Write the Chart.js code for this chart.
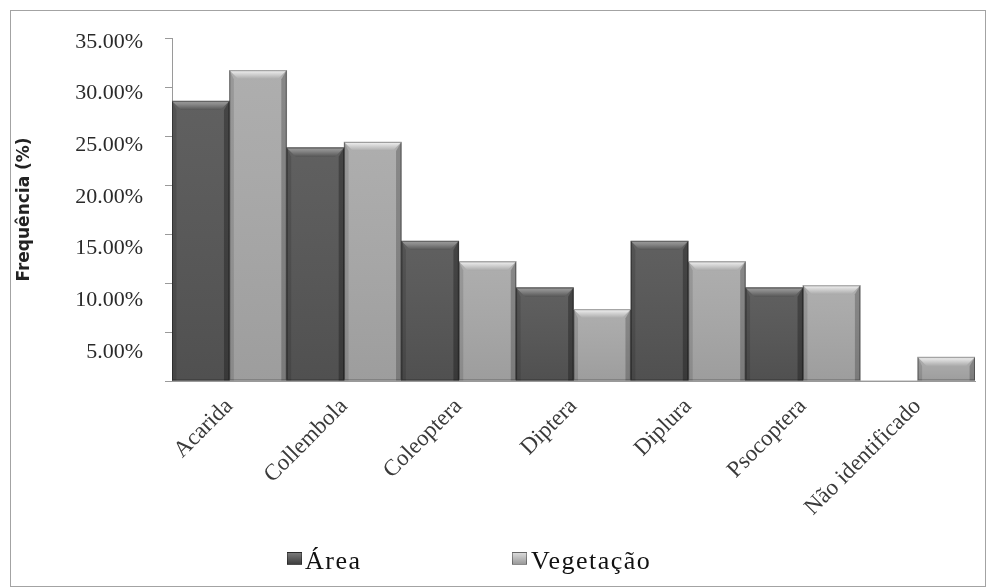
<!DOCTYPE html>
<html>
<head>
<meta charset="utf-8">
<script src="https://cdn.jsdelivr.net/npm/chart.js@4.4.1/dist/chart.umd.min.js"></script>
<style>
  html, body { margin: 0; padding: 0; background: #fff; }
  #wrap { position: relative; width: 987px; height: 587px; overflow: hidden; background: #fff; }
  #frame { position: absolute; left: 10px; top: 10px; width: 976px; height: 577px;
           border: 1px solid #a3a3a3; box-sizing: border-box; }
  #chart { position: absolute; left: 0; top: 0; }
  .key { position: absolute; width: 15px; height: 13px; box-sizing: border-box; }
  .key-text { position: absolute; font-family: "Liberation Serif", "Times New Roman", serif;
              font-size: 26px; line-height: 26px; letter-spacing: 1.5px; color: #111; white-space: nowrap; }
</style>
</head>
<body>
<div id="wrap">
  <div id="frame"></div>
  <canvas id="chart" width="987" height="587"></canvas>
  <div id="legend"></div>
</div>
<script>
// Soil fauna groups and their relative frequency (%) in each environment
const categories = ['Acarida', 'Collembola', 'Coleoptera', 'Diptera', 'Diplura', 'Psocoptera', 'Não identificado'];
const seriesNames = ['Área', 'Vegetação'];
const areaValues = [28.57, 23.81, 14.29, 9.52, 14.29, 9.52, 0];
const vegetacaoValues = [31.71, 24.39, 12.20, 7.32, 12.20, 9.76, 2.44];
const yTickValues = [5, 10, 15, 20, 25, 30, 35];
const yTickLabels = ['5.00%', '10.00%', '15.00%', '20.00%', '25.00%', '30.00%', '35.00%'];

// Bar palette: body, top bevel, side shade
const palette = [
  { body: '#565656', top: '#8a8a8a', topEdge: '#9c9c9c', side: 'rgba(0,0,0,0.28)', key: ['#7a7a7a', '#3e3e3e'] },
  { body: '#a9a9a9', top: '#d9d9d9', topEdge: '#f4f4f4', side: 'rgba(0,0,0,0.22)', key: ['#dadada', '#9a9a9a'] }
];

// Beveled "3D" look drawn over each bar, using the bar geometry computed by Chart.js
const bevelPlugin = {
  id: 'bevel',
  afterDatasetsDraw(chart) {
    const c = chart.ctx;
    chart.data.datasets.forEach((ds, di) => {
      const meta = chart.getDatasetMeta(di);
      const pal = palette[di];
      meta.data.forEach(bar => {
        const p = bar.getProps(['x', 'y', 'base', 'width'], true);
        const h = p.base - p.y;
        if (h < 1) return;
        const l = p.x - p.width / 2, r = p.x + p.width / 2, t = p.y, btm = p.base;
        const b = Math.min(9, h / 2);
        c.save();
        // vertical body shading
        const vg = c.createLinearGradient(0, t, 0, btm);
        vg.addColorStop(0, 'rgba(255,255,255,0.06)');
        vg.addColorStop(1, 'rgba(0,0,0,0.07)');
        c.fillStyle = vg;
        c.fillRect(l, t, r - l, h);
        // left bevel
        c.beginPath();
        c.moveTo(l, t); c.lineTo(l + b * 0.5, t + b); c.lineTo(l + b * 0.5, btm); c.lineTo(l, btm); c.closePath();
        c.fillStyle = 'rgba(0,0,0,0.12)'; c.fill();
        // right bevel
        c.beginPath();
        c.moveTo(r, t); c.lineTo(r - b * 0.6, t + b); c.lineTo(r - b * 0.6, btm); c.lineTo(r, btm); c.closePath();
        c.fillStyle = pal.side; c.fill();
        // top bevel
        const tg = c.createLinearGradient(0, t, 0, t + b);
        tg.addColorStop(0, pal.topEdge);
        tg.addColorStop(0.35, pal.top);
        tg.addColorStop(1, pal.body);
        c.beginPath();
        c.moveTo(l, t); c.lineTo(r, t); c.lineTo(r - b, t + b); c.lineTo(l + b, t + b); c.closePath();
        c.fillStyle = tg; c.fill();
        // thin dark outline
        c.strokeStyle = 'rgba(0,0,0,0.35)';
        c.lineWidth = 1;
        c.strokeRect(l + 0.5, t + 0.5, r - l - 1, h - 1);
        c.restore();
      });
    });
  }
};

const serif = '"Liberation Serif", "Times New Roman", serif';

new Chart(document.getElementById('chart'), {
  type: 'bar',
  data: {
    labels: categories,
    datasets: [
      { label: seriesNames[0], data: areaValues, backgroundColor: palette[0].body, borderWidth: 0,
        categoryPercentage: 1, barPercentage: 1 },
      { label: seriesNames[1], data: vegetacaoValues, backgroundColor: palette[1].body, borderWidth: 0,
        categoryPercentage: 1, barPercentage: 1 }
    ]
  },
  options: {
    responsive: false,
    animation: false,
    devicePixelRatio: 1,
    layout: { padding: { top: 38, right: 12, left: 0, bottom: 0 } },
    plugins: { legend: { display: false }, tooltip: { enabled: false } },
    scales: {
      x: {
        grid: { display: false, drawTicks: false },
        border: { color: '#9a9a9a', width: 1 },
        ticks: {
          autoSkip: false, minRotation: 45, maxRotation: 45, padding: 12,
          font: { family: serif, size: 23 }, color: '#3a3a3a'
        },
        afterFit: s => { s.height = 206; }
      },
      // value axis: line and tick marks
      y: {
        position: 'left', weight: 0, min: 0, max: 35,
        ticks: { stepSize: 5, display: false },
        grid: { drawOnChartArea: false, drawTicks: true, tickLength: 7, color: '#9a9a9a' },
        border: { color: '#9a9a9a', width: 1 },
        afterFit: s => { s.width = 7; }
      },
      // tick labels sit a little below their marks, drifting further toward the bottom
      yl: {
        position: 'left', weight: 1, min: 2.18, max: 35.38,
        grid: { display: false, drawTicks: false },
        border: { display: false },
        ticks: {
          stepSize: 5, includeBounds: false, padding: 22,
          font: { family: serif, size: 22 }, color: '#2a2a2a',
          callback: v => {
            const i = yTickValues.indexOf(Math.round(v));
            return i >= 0 && Math.abs(v - yTickValues[i]) < 1e-6 ? yTickLabels[i] : '';
          }
        },
        title: {
          display: true, text: 'Frequência (%)', color: '#222',
          font: { family: '"DejaVu Sans", sans-serif', weight: 'bold', size: 17 },
          padding: { top: 14, bottom: 0 }
        },
        afterFit: s => { s.width = 165; }
      }
    }
  },
  plugins: [bevelPlugin]
});

// Legend below the plot
const legendPos = [{ key: 287, text: 305 }, { key: 512, text: 531 }];
const legendEl = document.getElementById('legend');
seriesNames.forEach((name, i) => {
  const k = document.createElement('div');
  k.className = 'key';
  k.style.left = legendPos[i].key + 'px';
  k.style.top = '552px';
  k.style.background = `linear-gradient(${palette[i].key[0]}, ${palette[i].key[1]})`;
  k.style.border = '1px solid rgba(0,0,0,0.35)';
  legendEl.appendChild(k);
  const t = document.createElement('div');
  t.className = 'key-text';
  t.style.left = legendPos[i].text + 'px';
  t.style.top = '548px';
  t.textContent = name;
  legendEl.appendChild(t);
});
</script>
</body>
</html>
